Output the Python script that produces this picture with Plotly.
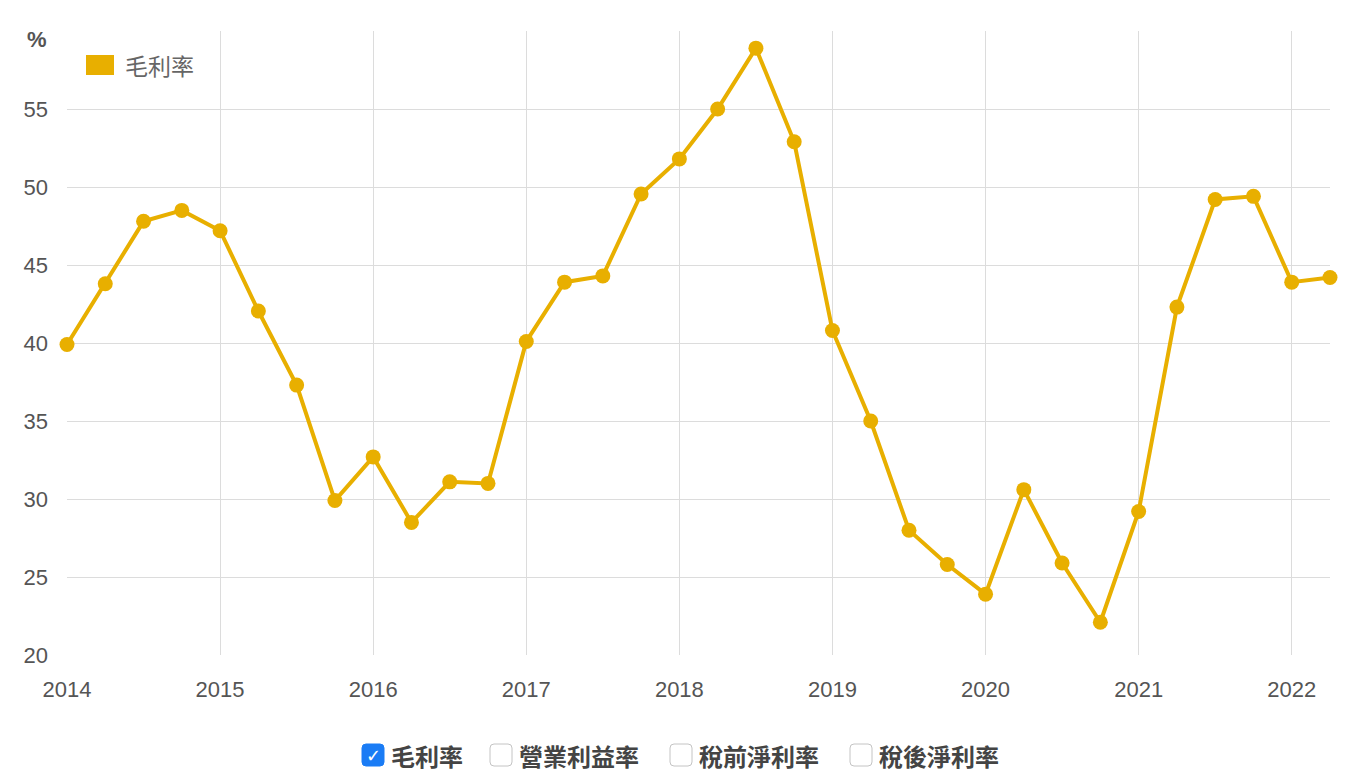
import plotly.graph_objects as go

quarters = [2014 + i * 0.25 for i in range(34)]
gross_margin = [39.9, 43.8, 47.8, 48.5, 47.2, 42.05, 37.3, 29.9, 32.7, 28.5,
                31.1, 31.0, 40.1, 43.9, 44.3, 49.55, 51.8, 55.0, 58.9, 52.9,
                40.8, 35.0, 28.0, 25.8, 23.9, 30.6, 25.9, 22.1, 29.2, 42.3,
                49.2, 49.4, 43.9, 44.2]
year_ticks = list(range(2014, 2023))
y_ticks = [20, 25, 30, 35, 40, 45, 50, 55, 60]
y_labels = ["20", "25", "30", "35", "40", "45", "50", "55", ""]
series_name = "毛利率"
checkbox_labels = ["毛利率", "營業利益率", "稅前淨利率", "稅後淨利率"]
checkbox_checked = [True, False, False, False]

GOLD = "#E8AF00"
FONT = "Helvetica Neue, Liberation Sans, Noto Sans CJK TC, sans-serif"
CJK = "Noto Sans CJK TC, sans-serif"

fig = go.Figure()
fig.add_trace(go.Scatter(
    x=quarters, y=gross_margin, mode="lines+markers", name=series_name,
    line=dict(color=GOLD, width=4), marker=dict(color=GOLD, size=15),
    showlegend=False, hoverinfo="x+y", cliponaxis=False))

OFF = 8  # default page body margin
W, H = 1348, 766
# target screen plot area: left 67, right 1330, top 31, bottom 655
ml, mt = 67 - OFF, 31 - OFF
mr = W - (1330 - OFF)
mb = H - (655 - OFF)

def px(x):
    return (x - OFF - ml) / (W - ml - mr)

def py(y):
    return (H - mb - (y - OFF)) / (H - mt - mb)

def rounded_box(x0, y0, x1, y1, r=4):
    # rounded rectangle path in paper coordinates (inputs in screen px)
    X0, X1 = px(x0), px(x1)
    Y0, Y1 = py(y0), py(y1)  # Y0 top (larger), Y1 bottom
    rx = r / (W - ml - mr)
    ry = r / (H - mt - mb)
    return (f"M {X0+rx},{Y0} L {X1-rx},{Y0} Q {X1},{Y0} {X1},{Y0-ry} "
            f"L {X1},{Y1+ry} Q {X1},{Y1} {X1-rx},{Y1} L {X0+rx},{Y1} "
            f"Q {X0},{Y1} {X0},{Y1+ry} L {X0},{Y0-ry} Q {X0},{Y0} {X0+rx},{Y0} Z")

shapes = []
annotations = []

# legend square
shapes.append(dict(type="rect", xref="paper", yref="paper",
                   x0=px(86), x1=px(114), y0=py(75), y1=py(55),
                   fillcolor=GOLD, line=dict(width=0)))
annotations.append(dict(xref="paper", yref="paper", x=px(123), y=py(65),
                        text=series_name, showarrow=False, xanchor="left",
                        yanchor="middle",
                        font=dict(family=CJK, size=23, color="#666")))
# % label
annotations.append(dict(xref="paper", yref="paper", x=px(37), y=py(40),
                        text="<b>%</b>", showarrow=False, xanchor="center",
                        yanchor="middle",
                        font=dict(family=FONT, size=22, color="#555")))

# checkboxes
box_x = [362, 490, 670, 850]
for bx, lab, chk in zip(box_x, checkbox_labels, checkbox_checked):
    path = rounded_box(bx, 744, bx + 22, 766)
    if chk:
        shapes.append(dict(type="path", xref="paper", yref="paper", path=path,
                           fillcolor="#1A7CF5", line=dict(color="#1A7CF5", width=1)))
        annotations.append(dict(xref="paper", yref="paper", x=px(bx + 11), y=py(755.5),
                                text="<b>✓</b>", showarrow=False, xanchor="center",
                                yanchor="middle",
                                font=dict(family="DejaVu Sans", size=18, color="white")))
    else:
        shapes.append(dict(type="path", xref="paper", yref="paper", path=path,
                           fillcolor="white", line=dict(color="#C4C4C4", width=1)))
    annotations.append(dict(xref="paper", yref="paper", x=px(bx + 27), y=py(755),
                            text="<b>" + lab + "</b>", showarrow=False,
                            xanchor="left", yanchor="middle",
                            font=dict(family=CJK, size=24, color="#444")))

fig.update_layout(
    width=W, height=H,
    margin=dict(l=ml, r=mr, t=mt, b=mb, autoexpand=False),
    paper_bgcolor="white", plot_bgcolor="white",
    font=dict(family=FONT, size=18, color="#555"),
    xaxis=dict(range=[2014, 2022.25], tickvals=year_ticks,
               ticktext=[str(y) for y in year_ticks],
               showgrid=True, gridcolor="#DCDCDC", gridwidth=1,
               zeroline=False, showline=False, ticks="", automargin=False,
               ticklabelstandoff=19,
               tickfont=dict(size=22, color="#555")),
    yaxis=dict(range=[20, 60], tickvals=y_ticks, ticktext=y_labels,
               showgrid=True, gridcolor="#DCDCDC", gridwidth=1,
               zeroline=False, showline=False, ticks="", automargin=False,
               ticklabelstandoff=18,
               tickfont=dict(size=22, color="#555")),
    shapes=shapes, annotations=annotations,
)

fig.write_html("out.html")
